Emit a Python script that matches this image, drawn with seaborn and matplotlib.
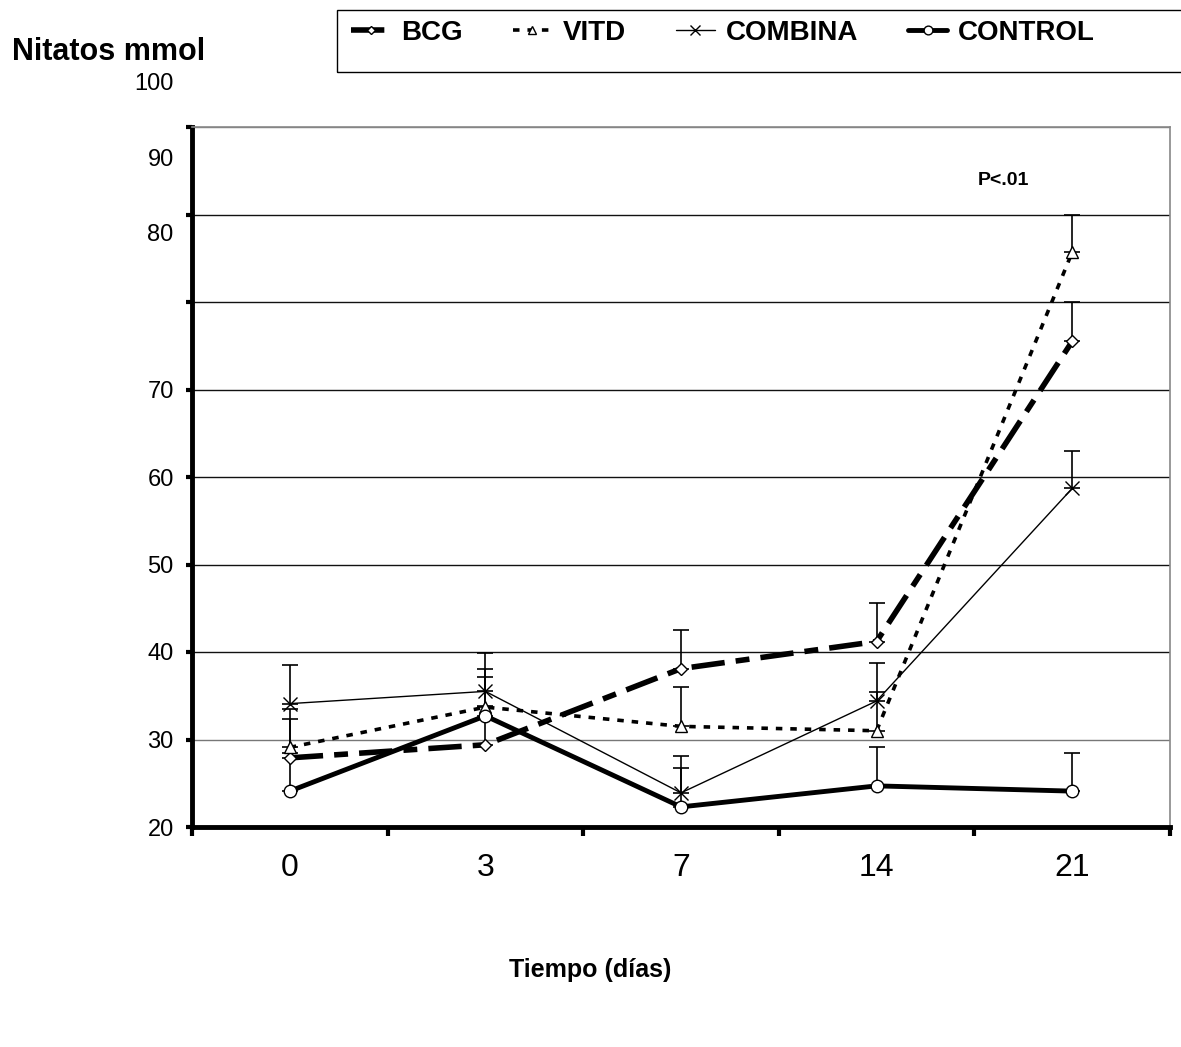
import numpy as np
import pandas as pd
import seaborn as sns
import matplotlib
matplotlib.use("Agg")
import matplotlib.pyplot as plt
from matplotlib.patches import Rectangle
from matplotlib.lines import Line2D
import matplotlib.transforms as mtransforms

# ---------------- data ----------------
days = ["0", "3", "7", "14", "21"]
bcg = [27.9, 29.4, 38.1, 41.2, 75.5]
vitd = [29.1, 33.7, 31.5, 31.0, 85.7]
combina = [34.1, 35.5, 23.9, 34.4, 58.7]
control = [24.1, 32.7, 22.3, 24.7, 24.1]
bcg_err = [4.4, 4.4, 4.4, 4.4, 4.5]
vitd_err = [4.4, 4.4, 4.5, 4.4, 4.3]
combina_err = [4.4, 4.4, 4.2, 4.4, 4.3]
control_err = [4.4, 4.4, 4.5, 4.4, 4.4]
series_names = ["BCG", "VITD", "COMBINA", "CONTROL"]
y_ticks = [20, 30, 40, 50, 60, 70, 80, 90, 100]
y_labels_low = ["20", "30", "40", "50", "60", "70"]

# ---------------- style ----------------
sns.set_style("white", rc={"text.color": "black", "xtick.color": "black",
                           "ytick.color": "black", "axes.labelcolor": "black"})
plt.rcParams["font.family"] = ["Liberation Sans", "DejaVu Sans"]

fig = plt.figure(figsize=(11.81, 10.47), dpi=100)
ax = fig.add_axes([192/1181, 1-827/1047, (1170-192)/1181, (827-127)/1047])

x = np.arange(len(days))
df = pd.DataFrame({
    "x": np.tile(x, 4),
    "y": bcg + vitd + combina + control,
    "serie": np.repeat(series_names, len(days)),
})

styles = {
    "BCG": dict(lw=4.0, ls=(0, (6, 2, 2.5, 2)), marker="D", ms=6.5, mfc="white", mew=1.0),
    "VITD": dict(lw=2.6, ls=(0, (1.8, 2.2)), marker="^", ms=8, mfc="white", mew=1.0),
    "COMBINA": dict(lw=1.0, ls="-", marker="x", ms=10, mfc="white", mew=1.0),
    "CONTROL": dict(lw=3.5, ls="-", marker="o", ms=9, mfc="white", mew=1.0),
}
errs = {"BCG": bcg_err, "VITD": vitd_err, "COMBINA": combina_err, "CONTROL": control_err}

for name in series_names:
    sub = df[df["serie"] == name]
    st = styles[name]
    # error bars (upper only)
    ax.errorbar(sub["x"], sub["y"], yerr=[np.zeros(len(sub)), errs[name]],
                fmt="none", ecolor="black", elinewidth=1.2, capsize=6, capthick=1.2, zorder=2)
    sns.lineplot(data=sub, x="x", y="y", ax=ax, color="black",
                 linewidth=st["lw"], linestyle=st["ls"], legend=False, zorder=3)
    ax.plot(sub["x"], sub["y"], ls="none", marker=st["marker"], ms=st["ms"],
            mfc=st["mfc"], mec="black", mew=st["mew"], zorder=4)

# ---------------- axes ----------------
ax.set_xlim(-0.5, 4.5)
ax.set_ylim(20, 100)
ax.set_xlabel("")
ax.set_ylabel("")

ax.set_xticks(np.arange(-0.5, 5.0, 1.0))
ax.set_xticklabels([])
ax.set_xticks(x, minor=True)
ax.set_xticklabels(days, minor=True, fontsize=23)
ax.tick_params(axis="x", which="major", direction="out", length=6.5, width=3, color="black", bottom=True)
ax.tick_params(axis="x", which="minor", length=0, pad=19)

ax.set_yticks(y_ticks)
ax.set_yticklabels(y_labels_low + ["", "", ""], fontsize=17)
ax.tick_params(axis="y", which="major", direction="out", length=4, width=3, color="black", left=True, pad=9.2)
# misplaced upper labels as in the original
upper_vals = [87.9, 96.5]
ax.set_yticks(upper_vals, minor=True)
ax.set_yticklabels(["80", "90"], minor=True, fontsize=17)
ax.tick_params(axis="y", which="minor", length=0, pad=13.2)
off = mtransforms.offset_copy(ax.get_yaxis_transform(), fig=fig, x=-13.2, y=0, units="points")
ax.text(0, 104.9, "100", transform=off, ha="right", va="center", fontsize=17, clip_on=False)

ax.yaxis.grid(True, color="#111111", linewidth=1.0)
ax.xaxis.grid(False)
for gl, v in zip(ax.get_ygridlines(), y_ticks):
    if v in (30, 100):
        gl.set_color("#777777")

for s in ["left", "bottom"]:
    ax.spines[s].set_color("black")
    ax.spines[s].set_linewidth(3.5)
for s in ["top", "right"]:
    ax.spines[s].set_color("#888888")
    ax.spines[s].set_linewidth(1.2)

ax.text(3.65, 93.9, "P<.01", ha="center", va="center", fontsize=14, fontweight="bold")

# ---------------- titles ----------------
fig.text(12/1181, 1-52/1047, "Nitatos mmol", ha="left", va="center", fontsize=22, fontweight="bold")
fig.text(590/1181, 1-970/1047, "Tiempo (días)", ha="center", va="center", fontsize=18, fontweight="bold")

# ---------------- legend ----------------
fig.patches.append(Rectangle((337/1181, 1-72/1047), 0.75, 62/1047, transform=fig.transFigure,
                             fill=False, edgecolor="black", linewidth=1.0, clip_on=False))
handles = []
for name in series_names:
    st = styles[name]
    handles.append(Line2D([0], [0], color="black", lw=st["lw"], ls=st["ls"], marker=st["marker"],
                          ms=st["ms"] * 0.7, mfc="white", mec="black", mew=1.0))
fig.legend(handles, series_names, loc="upper left", bbox_to_anchor=(329/1181, 1+2/1047),
           ncol=4, frameon=False, prop={"size": 20, "weight": "bold"},
           handlelength=1.4, handletextpad=0.4, columnspacing=1.8, borderpad=0.3)

fig.savefig("out.png", dpi=100)
